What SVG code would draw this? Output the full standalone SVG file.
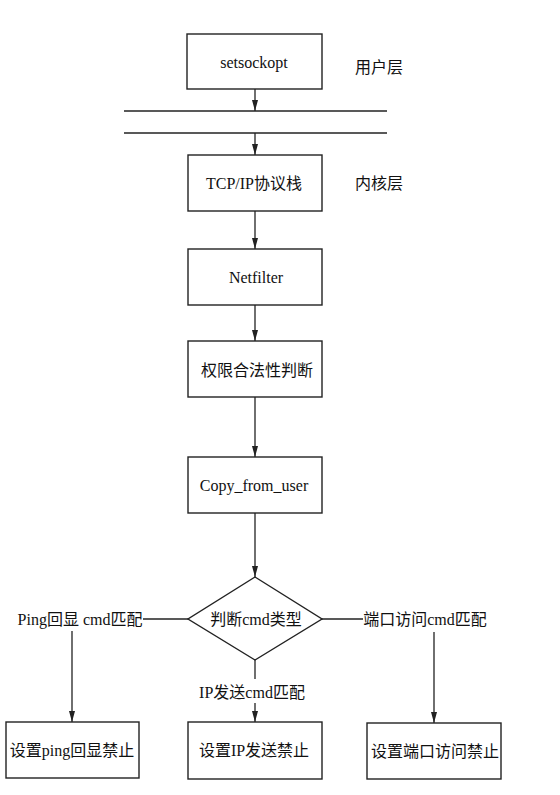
<svg xmlns="http://www.w3.org/2000/svg" width="560" height="795" viewBox="0 0 560 795">
<defs>
<style>
.box{fill:#fff;stroke:#222;stroke-width:1.4}
.ln{fill:none;stroke:#222;stroke-width:1.3}
.t{font-family:"Liberation Serif","Noto Sans CJK SC",serif;font-size:16px;fill:#111;text-anchor:middle;dominant-baseline:central}
</style>
<marker id="ah" viewBox="0 0 6 12" refX="6" refY="6" markerWidth="6" markerHeight="12" markerUnits="userSpaceOnUse" orient="auto">
<path d="M0,3 L6,6 L0,9 Z" fill="#222" transform="rotate(0)"/>
</marker>
<marker id="arr" viewBox="0 0 11 6" refX="11" refY="3" markerWidth="11" markerHeight="6" markerUnits="userSpaceOnUse" orient="auto">
<path d="M0,0 L11,3 L0,6 Z" fill="#222"/>
</marker>
</defs>
<rect width="560" height="795" fill="#fff"/>

<g id="connectors">
<line class="ln" x1="124" y1="111" x2="387" y2="111"/>
<line class="ln" x1="124" y1="133" x2="387" y2="133"/>
<line class="ln" x1="255" y1="89" x2="255" y2="111" marker-end="url(#arr)"/>
<line class="ln" x1="255" y1="133" x2="255" y2="155" marker-end="url(#arr)"/>
<line class="ln" x1="255" y1="211" x2="255" y2="249" marker-end="url(#arr)"/>
<line class="ln" x1="255" y1="305" x2="255" y2="341" marker-end="url(#arr)"/>
<line class="ln" x1="255" y1="397" x2="255" y2="457" marker-end="url(#arr)"/>
<line class="ln" x1="255" y1="513" x2="255" y2="577" marker-end="url(#arr)"/>
<line class="ln" x1="188" y1="619" x2="143" y2="619"/>
<line class="ln" x1="322" y1="619" x2="363" y2="619"/>
<line class="ln" x1="72" y1="631" x2="72" y2="722" marker-end="url(#arr)"/>
<line class="ln" x1="434" y1="632" x2="434" y2="723" marker-end="url(#arr)"/>
<line class="ln" x1="255" y1="658" x2="255" y2="679"/>
<line class="ln" x1="255" y1="703" x2="255" y2="722" marker-end="url(#arr)"/>
</g>

<g id="n-setsockopt">
<rect class="box" x="187" y="34" width="135" height="55"/>
<text class="t" x="254" y="62">setsockopt</text>
</g>
<g id="lbl-user">
<text class="t" x="379" y="67">用户层</text>
</g>
<g id="n-tcpip">
<rect class="box" x="188" y="155" width="134" height="56"/>
<text class="t" x="254" y="183">TCP/IP协议栈</text>
</g>
<g id="lbl-kernel">
<text class="t" x="379" y="183">内核层</text>
</g>
<g id="n-netfilter">
<rect class="box" x="188" y="249" width="134" height="56"/>
<text class="t" x="256" y="277">Netfilter</text>
</g>
<g id="n-perm">
<rect class="box" x="188" y="341" width="134" height="56"/>
<text class="t" x="257" y="370">权限合法性判断</text>
</g>
<g id="n-copy">
<rect class="box" x="188" y="457" width="134" height="56"/>
<text class="t" x="254" y="485">Copy_from_user</text>
</g>
<g id="n-decide">
<polygon class="box" points="255,577 322,619 255,660 188,619"/>
<text class="t" x="256" y="619">判断cmd类型</text>
</g>
<g id="lbl-ping">
<text class="t" x="80" y="619">Ping回显 cmd匹配</text>
</g>
<g id="lbl-port">
<text class="t" x="425" y="619">端口访问cmd匹配</text>
</g>
<g id="lbl-ip">
<text class="t" x="252" y="692">IP发送cmd匹配</text>
</g>
<g id="n-ping">
<rect class="box" x="6" y="722" width="133" height="56"/>
<text class="t" x="72" y="750">设置ping回显禁止</text>
</g>
<g id="n-ip">
<rect class="box" x="188" y="722" width="134" height="57"/>
<text class="t" x="254" y="750">设置IP发送禁止</text>
</g>
<g id="n-port">
<rect class="box" x="367" y="723" width="134" height="56"/>
<text class="t" x="435" y="751">设置端口访问禁止</text>
</g>
</svg>
